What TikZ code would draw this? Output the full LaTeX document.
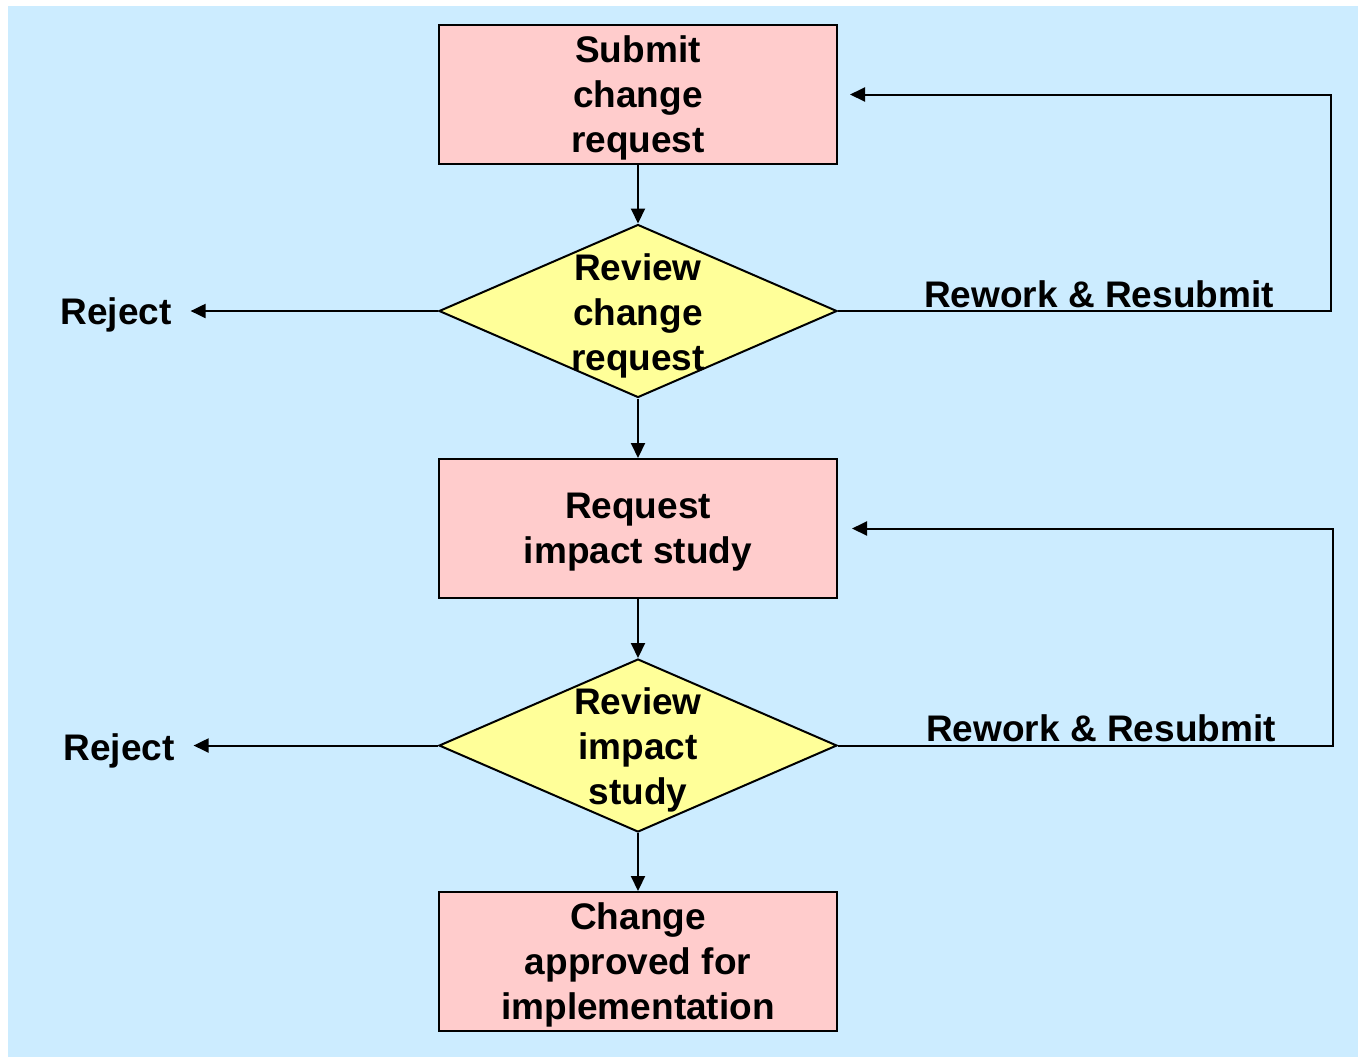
\documentclass[tikz,border=0pt]{standalone}
\usepackage{fontspec}
\setmainfont{Liberation Sans}
\usetikzlibrary{shapes.geometric,arrows.meta}
\definecolor{bgblue}{HTML}{CCECFF}
\definecolor{boxpink}{HTML}{FFCCCC}
\definecolor{decyellow}{HTML}{FFFF99}

\begin{document}
\begin{tikzpicture}[x=0.5pt,y=-0.5pt,
	every node/.style={font=\fontsize{18.5}{22.5}\selectfont\bfseries},
	process/.style={rectangle,draw,fill=boxpink,line width=1pt,minimum width=199pt,minimum height=69.5pt,align=center,inner sep=0pt,text depth=0pt},
	decision/.style={diamond,draw,fill=decyellow,line width=1pt,minimum width=199pt,minimum height=86.5pt,inner sep=0pt},
	flow/.style={-{Triangle[length=7.5pt,width=7pt]},line width=1pt}]
\useasboundingbox (0,0) rectangle (1358,1057);
\fill[bgblue] (8,6) rectangle (1358,1057);

\node [process] (submit) at (638,94.5) {Submit\\change\\request};
\node [decision] (revchange) at (638,311) {};
\node [align=center] (revchangetxt) at (638,316) {Review\\change\\request};
\node [process] (request) at (638,528.5) {Request\\impact study};
\node [decision] (revimpact) at (638,745.5) {};
\node [align=center] (revimpacttxt) at (638,750) {Review\\impact\\study};
\node [process] (approved) at (638,961.5) {Change\\approved for\\implementation};

\node (rejA) at (116,315) {Reject};
\node (rejB) at (119,751) {Reject};
\node (reworkA) at (1099,294) {Rework \& Resubmit};
\node (reworkB) at (1101,728) {Rework \& Resubmit};
\coordinate (loopA) at (1331,311);
\coordinate (loopB) at (1333,745.5);

\draw [flow] (submit) -- (revchange);
\draw [flow] (revchange) -- (request);
\draw [flow] (request) -- (revimpact);
\draw [flow] (revimpact) -- (approved);
\draw [flow,shorten >=6pt] (revchange.west) -- (revchange.west -| rejA.east);
\draw [flow,shorten >=6pt] (revimpact.west) -- (revimpact.west -| rejB.east);
\draw [flow] (revchange.east) -- (loopA) |- ([xshift=6pt]submit.east);
\draw [flow] (revimpact.east) -- (loopB) |- ([xshift=7pt]request.east);
\end{tikzpicture}
\end{document}
